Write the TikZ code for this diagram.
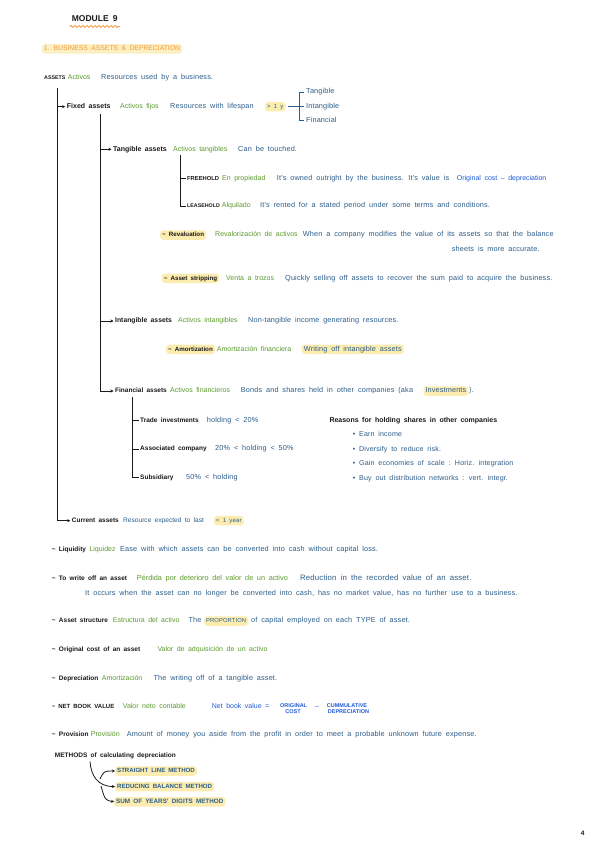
\documentclass[tikz,border=0pt]{standalone}
\usepackage{fontspec}
\setmainfont[WordSpace=1.8]{Liberation Sans}
\newfontfamily\enfont[WordSpace=1.8, LetterSpace=2]{Liberation Sans}
\usetikzlibrary{arrows.meta,decorations.pathmorphing}
\definecolor{inkblack}{HTML}{1A1A1A}
\definecolor{inkgreen}{HTML}{5B9A2C}
\definecolor{inkblue}{HTML}{2B5D8A}
\definecolor{brightblue}{HTML}{1F5AD6}
\definecolor{titleorange}{HTML}{F29A38}
\definecolor{hlyellow}{HTML}{FCECB0}
\definecolor{sectfill}{HTML}{FDEFC4}
\newcommand\tsz{\fontsize{7}{8}\selectfont}
\newcommand\tsl{\fontsize{6.5}{7}\selectfont\bfseries}
\newcommand\tsen{\enfont\fontsize{7.3}{8}\selectfont}
\newcommand\tsm{\fontsize{5.5}{6}\selectfont}
\tikzset{
  base/.style={anchor=west, inner sep=0pt, text height=5pt, text depth=1.5pt, font=\tsz},
  lbl/.style={base, text=inkblack, font=\tsl},
  es/.style={base, text=inkgreen},
  en/.style={base, text=inkblue, font=\tsen},
  fm/.style={base, text=brightblue},
  hl/.style={base, fill=hlyellow, rounded corners=3pt, inner xsep=2pt, inner ysep=1.5pt},
  hlk/.style={hl, text=inkblack, font=\fontsize{6.2}{7}\selectfont\bfseries},
  hlb/.style={hl, text=inkblue, font=\tsen},
  hlm/.style={hl, text=inkblue, font=\fontsize{6.1}{7}\selectfont\bfseries},
  arr/.style={-{Stealth[length=3pt,width=3pt]}, line width=0.8pt, draw=inkblack, shorten >=1.5pt},
  ln/.style={line width=0.8pt, draw=inkblack},
}
\begin{document}
\begin{tikzpicture}[x=1pt,y=-1pt]
\useasboundingbox (0,0) rectangle (600,848);
\fill[white] (0,0) rectangle (600,848);

% title
\node[lbl, font=\fontsize{8.5}{9}\selectfont\bfseries] (title) at (71.7,20) {MODULE 9};
\draw[titleorange, line width=0.8pt, decorate, decoration={snake, amplitude=1pt, segment length=4pt}]
  ([xshift=-2pt,yshift=-3pt]title.south west) -- ([xshift=2pt,yshift=-3pt]title.south east);
\node[hl, fill=sectfill, text=titleorange, font=\fontsize{6.8}{7}\selectfont] (sect) at (41.7,49) {1. BUSINESS ASSETS \& DEPRECIATION};

% assets
\node[lbl, font=\fontsize{5.3}{6}\selectfont\bfseries] (assets) at (44,77.7) {ASSETS};
\node[es] (assetsES) at (67.7,77.7) {Activos};
\node[en] (assetsEN) at (101,77.7) {Resources used by a business.};
\coordinate (trunk) at (57,88);

% fixed assets
\node[lbl, font=\fontsize{7}{8}\selectfont\bfseries] (fixed) at (66.7,106.7) {Fixed assets};
\node[es] (fixedES) at (120,106.7) {Activos fijos};
\node[en] (fixedEN) at (170,106.7) {Resources with lifespan};
\node[hlb, font=\enfont\fontsize{6}{7}\selectfont] (gt) at (265,106.7) {> 1 y};
\node[en] (bT) at (306,92) {Tangible};
\node[en] (bI) at (306,106.7) {Intangible};
\node[en] (bF) at (306,120.7) {Financial};
\coordinate (brk) at (299,106.7);
\draw[ln, draw=inkblue] ([xshift=2pt]gt.east) -- ([xshift=-2pt]bI.west);
\draw[ln, draw=inkblue] ([xshift=-2pt]bT.west) -| (brk);
\draw[ln, draw=inkblue] (brk) |- ([xshift=-2pt]bF.west);
\draw[arr] (trunk |- fixed.west) -- (fixed.west);
\coordinate (ftrunk) at (100.7,114);

% tangible
\node[lbl, font=\fontsize{7}{8}\selectfont\bfseries] (tang) at (113,149.3) {Tangible assets};
\node[es] (tangES) at (173,149.3) {Activos tangibles};
\node[en] (tangEN) at (238,149.3) {Can be touched.};
\coordinate (ttrunk) at (180,155);
\node[lbl, font=\fontsize{5.8}{6}\selectfont\bfseries] (free) at (187,178.3) {FREEHOLD};
\node[es] (freeES) at (222,178.3) {En propiedad};
\node[en] (freeEN) at (276.7,178.3) {It's owned outright by the business. It's value is};
\node[fm] (freeFM) at (456.7,178.3) {Original cost – depreciation};
\node[lbl, font=\fontsize{5.3}{6}\selectfont\bfseries] (lease) at (187,206) {LEASEHOLD};
\node[es] (leaseES) at (221.7,206) {Alquilado};
\node[en] (leaseEN) at (260,206) {It's rented for a stated period under some terms and conditions.};
\draw[ln] (ttrunk) |- ([xshift=-1pt]lease.west);
\draw[ln] (ttrunk |- free.west) -- ([xshift=-1pt]free.west);

\node[hlk] (reval) at (160,235) {\textasciitilde{} Revaluation};
\node[es] (revalES) at (215,235) {Revalorización de activos};
\node[en] (revalEN) at (302.7,235) {When a company modifies the value of its assets so that the balance};
\node[en] (revalEN2) at (451.7,250) {sheets is more accurate.};

\node[hlk] (strip) at (161.7,278.3) {\textasciitilde{} Asset stripping};
\node[es] (stripES) at (226,278.3) {Venta a trozos};
\node[en] (stripEN) at (285,278.3) {Quickly selling off assets to recover the sum paid to acquire the business.};

% intangible
\node[lbl, font=\fontsize{6.8}{8}\selectfont\bfseries] (intang) at (115,321) {Intangible assets};
\node[es] (intangES) at (178,321) {Activos intangibles};
\node[en] (intangEN) at (248,321) {Non-tangible income generating resources.};
\node[hlk] (amort) at (166,349.3) {\textasciitilde{} Amortization};
\node[es] (amortES) at (216.7,349.3) {Amortización financiera};
\node[hlb] (amortEN) at (301.7,349.3) {Writing off intangible assets};

% financial
\node[lbl] (finan) at (115,391) {Financial assets};
\node[es] (finanES) at (170,391) {Activos financieros};
\node[en] (finanEN) at (240.7,391) {Bonds and shares held in other companies (aka};
\node[hlb] (invest) at (423.3,391) {Investments};
\node[en] (finanEN2) at (469,391) {).};
\draw[arr] (ftrunk) |- (finan.west);
\draw[arr] (ftrunk |- tang.west) -- (tang.west);
\draw[arr] (ftrunk |- intang.west) -- (intang.west);

\coordinate (fitrunk) at (132,397);
\node[lbl] (trade) at (140,420.7) {Trade investments};
\node[en] (tradeEN) at (206.7,420.7) {holding < 20\%};
\node[lbl] (assoc) at (140,449) {Associated company};
\node[en] (assocEN) at (215,449) {20\% < holding < 50\%};
\node[lbl] (subs) at (140,477.7) {Subsidiary};
\node[en] (subsEN) at (186,477.7) {50\% < holding};
\draw[ln] (fitrunk) |- ([xshift=-1pt]subs.west);
\draw[ln] (fitrunk |- trade.west) -- ([xshift=-1pt]trade.west);
\draw[ln] (fitrunk |- assoc.west) -- ([xshift=-1pt]assoc.west);

\node[lbl, font=\fontsize{7}{8}\selectfont\bfseries] (reasons) at (329.3,420.7) {Reasons for holding shares in other companies};
\node[en, font=\enfont\fontsize{7.1}{8}\selectfont] (r1) at (352.7,434.3) {\textbullet{} Earn income};
\node[en, font=\enfont\fontsize{7.1}{8}\selectfont] (r2) at (352.7,449.3) {\textbullet{} Diversify to reduce risk.};
\node[en, font=\enfont\fontsize{7.1}{8}\selectfont] (r3) at (352.7,463.3) {\textbullet{} Gain economies of scale : Horiz. integration};
\node[en, font=\enfont\fontsize{7.1}{8}\selectfont] (r4) at (352.7,478.3) {\textbullet{} Buy out distribution networks : vert. integr.};

% current assets
\node[lbl] (current) at (71.7,520.7) {Current assets};
\node[en, font=\fontsize{6.6}{8}\selectfont] (currentEN) at (123,520.7) {Resource expected to last};
\node[hlb, font=\enfont\fontsize{6}{7}\selectfont] (lt) at (214,520.7) {< 1 year};
\draw[arr] (trunk) |- (current.west);

% definitions
\node[lbl] (liq) at (51.7,550) {\textasciitilde{} Liquidity};
\node[es] (liqES) at (89.3,550) {Liquidez};
\node[en] (liqEN) at (120,550) {Ease with which assets can be converted into cash without capital loss.};

\node[lbl] (wo) at (51.7,578.3) {\textasciitilde{} To write off an asset};
\node[es, font=\fontsize{7.3}{8}\selectfont] (woES) at (136.7,578.3) {Pérdida por deterioro del valor de un activo};
\node[en, font=\enfont\fontsize{7.8}{8}\selectfont] (woEN) at (300,578.3) {Reduction in the recorded value of an asset.};
\node[en] (woEN2) at (85,593.3) {It occurs when the asset can no longer be converted into cash, has no market value, has no further use to a business.};

\node[lbl] (struct) at (51.7,621) {\textasciitilde{} Asset structure};
\node[es] (structES) at (112.7,621) {Estructura del activo};
\node[en] (structEN) at (188.3,621) {The};
\node[hlb, font=\enfont\fontsize{5.8}{7}\selectfont] (prop) at (204,621) {PROPORTION};
\node[en] (structEN2) at (251,621) {of capital employed on each TYPE of asset.};

\node[lbl] (orig) at (51.7,649.3) {\textasciitilde{} Original cost of an asset};
\node[es] (origES) at (157.3,649.3) {Valor de adquisición de un activo};

\node[lbl] (dep) at (51.7,678.3) {\textasciitilde{} Depreciation};
\node[es] (depES) at (101.7,678.3) {Amortización};
\node[en] (depEN) at (153.3,678.3) {The writing off of a tangible asset.};

\node[lbl, font=\fontsize{6}{7}\selectfont\bfseries] (nbv) at (51.7,706.7) {\textasciitilde{} NET BOOK VALUE};
\node[es] (nbvES) at (122.7,706.7) {Valor neto contable};
\node[fm] (nbvFM) at (211.7,706.7) {Net book value =};
\node[fm, font=\tsm\bfseries] (oc1) at (280,705.5) {ORIGINAL};
\node[fm, font=\tsm\bfseries, anchor=center] (oc2) at (293,712) {COST};
\node[fm] (minus) at (315,706.7) {–};
\node[fm, font=\tsm\bfseries] (cd1) at (326.7,705.5) {CUMMULATIVE};
\node[fm, font=\tsm\bfseries] (cd2) at (327.7,712) {DEPRECIATION};

\node[lbl] (prov) at (51.7,735) {\textasciitilde{} Provision};
\node[es] (provES) at (90.7,735) {Provisión};
\node[en] (provEN) at (126.7,735) {Amount of money you aside from the profit in order to meet a probable unknown future expense.};

% methods
\node[lbl] (meth) at (54.7,755.3) {METHODS of calculating depreciation};
\coordinate (mstart) at (90,761.5);
\coordinate (mb1) at (100,779);
\coordinate (mb2) at (101,786);
\node[hlm] (m1) at (115,771) {STRAIGHT LINE METHOD};
\node[hlm] (m2) at (115,786.5) {REDUCING BALANCE METHOD};
\node[hlm, font=\fontsize{6.3}{7}\selectfont\bfseries] (m3) at (114,801.8) {SUM OF YEARS' DIGITS METHOD};
\draw[arr, shorten >=0pt] (mstart) .. controls (91,776) and (98,786.5) .. (m2.west);
\draw[arr, shorten >=0pt] (mb1) .. controls (104,771) .. (m1.west);
\draw[arr, shorten >=0pt] (mb2) .. controls (105,800) .. (m3.west);

\node[lbl, anchor=center] (page) at (582.7,833.8) {4};
\end{tikzpicture}
\end{document}
